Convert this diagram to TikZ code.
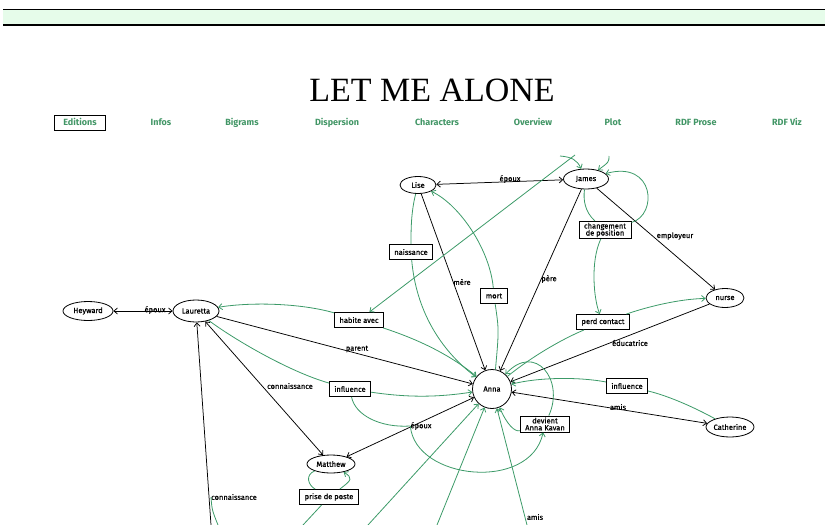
\documentclass[tikz,border=0pt]{standalone}
\usepackage{fontspec}
\newfontfamily\graphfont[FakeBold=0.3]{Fira Sans}
\newfontfamily\nodefont[FakeBold=0.6]{Fira Sans}
\newfontfamily\menufont{Fira Sans}
\newfontfamily\titlefont{Liberation Serif}
\usetikzlibrary{shapes.geometric,arrows.meta,shadows}
\definecolor{relgreen}{RGB}{60,154,104}
\definecolor{menugreen}{RGB}{66,150,102}
\definecolor{bandgreen}{RGB}{230,252,234}
\begin{document}
\begin{tikzpicture}[x=1pt,y=-1pt,
  every node/.style={font=\graphfont\fontsize{7.5}{8.5}\selectfont},
  ent/.style={draw,ellipse,line width=0.8pt,fill=white,inner sep=0pt,font=\nodefont\fontsize{7.5}{8.5}\selectfont},
  rel/.style={draw,line width=0.9pt,fill=white,inner xsep=5pt,inner ysep=2.5pt,minimum height=15pt,align=center,
    font=\nodefont\fontsize{7.5}{8.5}\selectfont,
    drop shadow={shadow xshift=0.7pt,shadow yshift=-0.7pt,fill=black!50,opacity=0.8}},
  lbl/.style={inner sep=0pt},
  menu/.style={text=menugreen,text height=6.5pt,text depth=2pt,font=\menufont\bfseries\fontsize{9}{10}\selectfont},
  bk/.style={line width=0.75pt,-{Straight Barb[length=3.5pt,width=6pt]}},
  bkb/.style={line width=0.75pt,{Straight Barb[length=3.5pt,width=6pt]}-{Straight Barb[length=3.5pt,width=6pt]}},
  gr/.style={relgreen,line width=0.8pt,-{Straight Barb[length=3.5pt,width=6pt]}},
  grl/.style={relgreen,line width=0.8pt}]
\useasboundingbox (0,0) rectangle (825,525);
% header band
\fill[bandgreen] (3,10) rectangle (825,23.5);
\draw[line width=1.3pt] (3,9.5) -- (825,9.5);
\draw[line width=2pt] (3,24.5) -- (825,24.5);
\node[font=\titlefont\fontsize{34}{36}\selectfont] (title) at (432,90) {LET ME ALONE};
% menu
\node[menu,draw=black,line width=1pt,minimum width=51pt,minimum height=14pt] (m-editions) at (80,123) {Editions};
\node[menu] (m-infos) at (161,123) {Infos};
\node[menu] (m-bigrams) at (242,123) {Bigrams};
\node[menu] (m-dispersion) at (337,123) {Dispersion};
\node[menu] (m-characters) at (437,123) {Characters};
\node[menu] (m-overview) at (533,123) {Overview};
\node[menu] (m-plot) at (613,123) {Plot};
\node[menu] (m-rdfprose) at (696,123) {RDF Prose};
\node[menu] (m-rdfviz) at (787,123) {RDF Viz};
% characters
\node[ent,minimum width=36pt,minimum height=17pt] (lise) at (418,185) {Lise};
\node[ent,minimum width=45pt,minimum height=20pt] (james) at (586,179) {James};
\node[ent,minimum width=50pt,minimum height=19pt] (heyward) at (88,311) {Heyward};
\node[ent,minimum width=46pt,minimum height=22pt] (lauretta) at (196,311) {Lauretta};
\node[ent,minimum width=38pt,minimum height=19pt] (nurse) at (725,298) {nurse};
\node[ent,minimum width=48pt,minimum height=20pt] (catherine) at (730,427) {Catherine};
\node[ent,minimum width=48pt,minimum height=18pt] (matthew) at (331,464) {Matthew};
\node[ent,circle,minimum size=39pt] (anna) at (492,389) {Anna};
% events
\node[rel] (naissance) at (411,252) {naissance};
\node[rel] (mort) at (494,296) {mort};
\node[rel] (habite) at (359,320) {habite avec};
\node[rel,inner ysep=1.5pt] (chgpos) at (605,230) {changement\\[-1.5pt]de position};
\node[rel] (perd) at (603,322) {perd contact};
\node[rel] (inflL) at (350,389) {influence};
\node[rel] (inflR) at (627,386) {influence};
\node[rel,inner ysep=1.5pt] (devient) at (545,424) {devient\\[-1.5pt]Anna Kavan};
\node[rel] (prise) at (329,497) {prise de poste};
% edge labels
\node[lbl] (l-epx1) at (510,179) {époux};
\node[lbl] (l-epx2) at (155,310) {époux};
\node[lbl] (l-mere) at (462,282) {mère};
\node[lbl] (l-pere) at (549,279) {père};
\node[lbl] (l-empl) at (675,236) {employeur};
\node[lbl] (l-parent) at (357,349) {parent};
\node[lbl] (l-educ) at (630,343) {éducatrice};
\node[lbl] (l-amis1) at (618,407) {amis};
\node[lbl] (l-conn1) at (290,386) {connaissance};
\node[lbl] (l-epx3) at (421,426) {époux};
\node[lbl] (l-conn2) at (234,497) {connaissance};
\node[lbl] (l-amis2) at (535,517) {amis};
% free ends at the border of the view
\coordinate (t1) at (575,155);
\coordinate (t2) at (560,156);
\coordinate (t3) at (609,156);
\coordinate (b1) at (303,525);
\coordinate (b2) at (218,525);
\coordinate (b3) at (368,525);
\coordinate (b4) at (437,525);
\coordinate (b5) at (527,525);
\coordinate (b6) at (211,525);
% black relations
\draw[bkb] (lise) -- (james);
\draw[bkb] (heyward) -- (lauretta);
\draw[bk] (lise) -- (anna);
\draw[bk] (james) -- (anna);
\draw[bk] (james) -- (nurse);
\draw[bk] (nurse) -- (anna);
\draw[bk] (lauretta) -- (anna);
\draw[bkb] (catherine) -- (anna);
\draw[bkb] (lauretta) -- (matthew);
\draw[bkb] (matthew) -- (anna);
\draw[bk] (b6) -- (lauretta);
% green events
\draw[gr] (t1) -- (habite);
\draw[gr] (habite) .. controls (300,303) and (250,302) .. (lauretta);
\draw[gr] (habite) .. controls (420,340) and (450,355) .. (anna);
\draw[grl] (lise) .. controls (411,212) and (411,230) .. (naissance);
\draw[gr] (naissance) .. controls (416,310) and (440,350) .. (anna);
\draw[gr] (mort) .. controls (490,250) and (460,205) .. (lise);
\draw[grl] (anna.80) .. controls (499,330) .. (mort);
\draw[gr] (t2) .. controls (572,157) and (577,160) .. (james);
\draw[gr] (t3) .. controls (609,162) .. (james);
\draw[grl] (james) .. controls (583,200) and (585,212) .. (chgpos);
\draw[gr] (chgpos) .. controls (658,215) and (655,160) .. (james);
\draw[gr] (chgpos) .. controls (590,262) and (594,300) .. (perd);
\draw[gr] (perd) .. controls (650,306) and (680,299) .. (nurse);
\draw[grl] (anna) .. controls (530,358) and (560,340) .. (perd);
\draw[gr] (devient) .. controls (565,380) and (535,342) .. (anna);
\draw[gr] (devient) .. controls (515,432) and (507,425) .. (anna);
\draw[grl] (catherine) .. controls (690,405) and (665,395) .. (inflR);
\draw[gr] (inflR) .. controls (580,377) and (540,377) .. (anna);
\draw[grl] (lauretta) .. controls (235,340) and (290,372) .. (inflL);
\draw[gr] (inflL) .. controls (410,398) and (440,397) .. (anna);
\draw[grl] (inflL) .. controls (355,415) and (380,428) .. (l-epx3.west);
\draw[gr] (l-epx3.west) .. controls (415,480) and (530,492) .. (devient);
\draw[grl] (matthew) .. controls (305,475) and (308,485) .. (prise);
\draw[gr] (prise) .. controls (352,480) and (353,478) .. (matthew);
\draw[grl] (prise) -- (b1);
\draw[grl] (l-conn2.west) .. controls (212,510) .. (b2);
\draw[gr] (b3) -- (anna);
\draw[gr] (b4) -- (anna);
\draw[gr] (b5) -- (anna);
\end{tikzpicture}
\end{document}
